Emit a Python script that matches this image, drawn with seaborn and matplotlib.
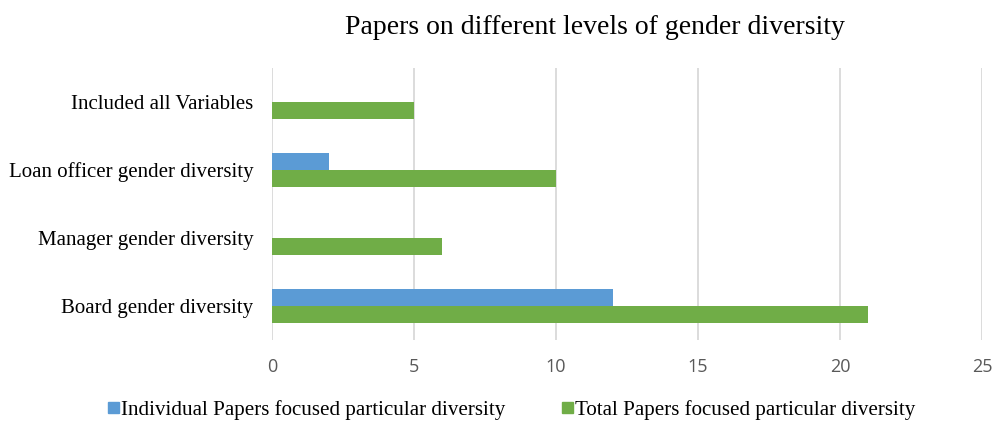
import matplotlib
matplotlib.use("Agg")
import matplotlib.pyplot as plt
import seaborn as sns
import pandas as pd

categories = ["Included all Variables", "Loan officer gender diversity",
              "Manager gender diversity", "Board gender diversity"]
individual = [0, 2, 0, 12]
total = [5, 10, 6, 21]
series_names = ["Individual Papers focused particular diversity",
                "Total Papers focused particular diversity"]
x_ticks = [0, 5, 10, 15, 20, 25]
title = "Papers on different levels of gender diversity"

df = pd.DataFrame({
    "category": categories * 2,
    "value": individual + total,
    "series": [series_names[0]] * len(categories) + [series_names[1]] * len(categories),
})

sns.set_theme(style="white")
serif = ["Liberation Serif", "DejaVu Serif"]
plt.rcParams["font.family"] = serif
plt.rcParams["text.color"] = "black"

fig = plt.figure(figsize=(9.93, 4.21), dpi=100)
ax = fig.add_axes([272/993, 1-340/421, (982-272)/993, (340-68)/421])

palette = {series_names[0]: "#5B9BD5", series_names[1]: "#70AD47"}
sns.barplot(data=df, y="category", x="value", hue="series", order=categories,
            hue_order=series_names, palette=palette, orient="h", width=0.5,
            saturation=1, ax=ax, zorder=3, legend=True, linewidth=0)

ax.set_xlim(0, 25)
ax.set_ylim(3.5, -0.5)
ax.set_xticks(x_ticks)
ax.set_xticklabels([str(t) for t in x_ticks], family=["Open Sans", "DejaVu Sans"],
                   fontsize=13, color="#595959")
ax.tick_params(axis="x", length=0, pad=13)
ax.tick_params(axis="y", length=0, pad=13.5, labelsize=15, labelcolor="black")
for lbl in ax.get_yticklabels():
    lbl.set_family(serif)
ax.set_xlabel("")
ax.set_ylabel("")
ax.grid(axis="x", color="#D9D9D9", linewidth=1.3, zorder=0)
ax.grid(axis="y", visible=False)
ax.set_axisbelow(True)
for s in ax.spines.values():
    s.set_visible(False)

ax.legend_.remove()
handles = [plt.Rectangle((0, 0), 1, 1, color=palette[n]) for n in series_names]
leg = fig.legend(handles, series_names, loc="center", bbox_to_anchor=(512/993, 1-410/421),
                 ncol=2, frameon=False, handlelength=0.5, handleheight=0.5,
                 handletextpad=0.12, columnspacing=2.7,
                 prop={"family": serif, "size": 15.1})
for t in leg.get_texts():
    t.set_color("black")

fig.text(595/993, 1-28/421, title, ha="center", va="center", fontsize=20,
         family=serif, color="black")

fig.savefig("out.png", dpi=100)
